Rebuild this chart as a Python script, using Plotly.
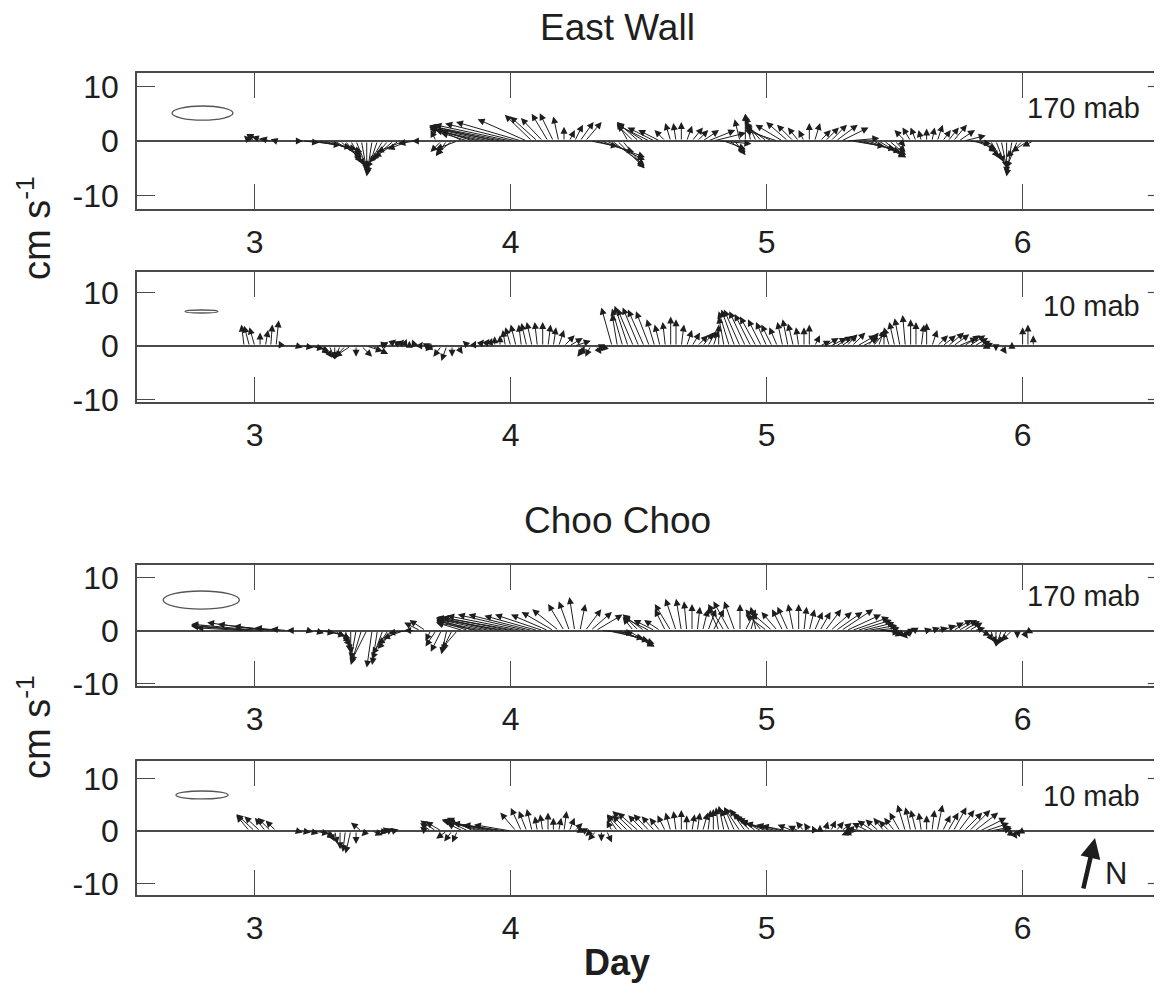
import plotly.graph_objects as go

# ---------------- data (half-hourly samples, start at day 142/48 = 2.958) ----------------
START_HALF_HOUR = 142
N_SAMPLES = 149
time_days = [(START_HALF_HOUR + j) / 48 for j in range(N_SAMPLES)]

# East Wall, 170 mab  (u = east, v = north, cm/s)
ew170_u = [0, -1, -1.5, -2.5, -2.5, -2, -1, 0, 0.5, 0.5,
           1, 3, 6, 7, 7, 7, 6, 5, 4, 3,
           2.5, 2, 1, 0, -1, -2, -3, -3.5, -4, -4.5,
           -5, -4, -3, -1.5, -0.5, 0.5, -1, -2, -2, -3,
           -4, -4, -5, -7, -8, -10, -11, -12, -13, -14,
           -14, -13, -12, -9, -5, -5, -4, -3, -2.5, -1,
           0, 1, 1.5, 2.5, 3, 5, 7, 8, 7, 6,
           5, 4, -2, -3, -4, -5, -6, -5, -4, -2,
           -1, -0.5, 0, 1, 2, 2, 3, 5, 6, 6,
           4, 3, 2, -1, 0, -1, -2, -3, -4, -5,
           -6, -5, -4, -3, -2, -1, 0, 1, 2, 2.5,
           3, 4, 5, 6, 6, 7, 7, 7, 6, 5,
           4, 3, 2, 1, -2, -1.5, -1, -0.5, 0, 0.5,
           1, 1.5, 2, 2.5, 3, 4, 4, 4, 3, 2.5,
           2, 1.5, 1, 0, -1, -2, -3, -3, -2]
ew170_v = [0, 1, 1.2, 1.3, 0.8, 0.5, 0.3, 0, -0.2, 0,
           0, -0.3, -0.8, -1.2, -1.5, -2, -2.5, -3, -3.5, -4,
           -4.5, -5, -5.5, -6, -6.5, -6, -5, -4, -3.5, -3,
           -2, -1.5, -0.5, 0, 0.5, 0.3, 2, -2, -2.8, -2.5,
           -1.5, 2, 1.5, 2.2, 2, 2.2, 2.5, 2.8, 2.5, 2.8,
           3, 3.2, 3.5, 4, 4.8, 4.5, 4.2, 5, 5.1, 4.5,
           2.6, 2, 3, 3.5, 3.5, -1, -2, -3, -3.5, -4.5,
           -5, -5, 3.5, 3, 3.5, 3.2, 3, 2.5, 2, 2,
           3.3, 3.3, 3.5, 2.8, 2.5, 2, 2, 2, 1.5, -0.5,
           -1.5, -2, -2.6, 4, 5, 5, 4.5, 3.5, 3, 2.5,
           2, 3, 3.5, 3, 2.5, 2, 3.3, 3.3, 2, 2.5,
           3, 3, 2.5, 0.5, -1, -1.5, -2, -2.5, -3, -3,
           -3, -2.5, -2, -1, 2, 2.5, 2.5, 2, 2.3, 2.5,
           3, 2, 2.5, 3, 2, 1, -0.5, -1.5, -2, -3,
           -3.5, -4, -5, -6, -6.5, -5, -3, -2, -1]

# East Wall, 10 mab
ew10_u = [-0.5, -1, -1, 0, 0.5, 0.3, 0.5, -0.5, 0, 0.5,
          1, 2, 3, 3, 2, 1.5, 1, 0, -1, -2,
          -3, 0, 2, 3, 3, 2, 1, 1.5, 1.5, 1,
          0.5, 0, -0.5, 0.5, 1, -1, -2, -1.5, -1, 0,
          1, 0, -1, 0.5, 1, 1, 0.5, 0, 0, -0.5,
          -1, -1, -0.5, -1, -1, -0.5, 0, 0.5, 0.5, 1,
          2, 2.5, 3, 1, -1.5, -1, 1, 0, -1, -2,
          -1, -2, -2.5, -3, -3, -3, -2.5, -1.5, -1, -0.5,
          0, 0, 0.5, 1, 1.5, 2, 2, 1.5, 1, 0,
          -1, -2, -2.5, -3, -3, -3, -3, -2.5, -2, -2,
          -1.5, -1, -1, -1, -0.5, 0, 0, 1, 2, 2.5,
          3, 3, 3, 2, 2.5, 3.5, 3, 2, 2.5, 1,
          0, -1, -1, -1, -0.5, 0, 0, 0.5, 0, 1,
          2, 2.5, 3, 3, 3.5, 3, 3, 2.5, 2, 1,
          -1, 0, 1, 0.5, 0, 0, 0, 0, 0]
ew10_v = [4, 3.8, 3.5, 2.5, 3, 4, 4.8, 1, 0.3, -0.2,
          -0.3, -0.3, -0.5, -1, -1.5, -2.2, -2.5, -2.5, -2.5, -2.2,
          -2, -2, -2, -1, -1.5, 0.5, 0.8, 1.2, 1, 1.2,
          1.3, 1, 1.2, 0.8, 0.5, -1, -0.5, -2, -2.8, -2,
          -1.5, 0.5, 1, 1, 1.2, 1.3, 1.5, 1.8, 2, 3,
          3.5, 4, 4, 4.3, 4.5, 4.5, 4.5, 4, 3.5, 3,
          2, 1.5, 1, -1.5, -2, -2, -1.5, -1, -1, 7.2,
          6, 7, 7.5, 7, 7.2, 6.8, 6.5, 5, 4, 4.5,
          5.5, 5, 4, 3, 2.5, 2, 2.5, 2.8, 3, 4,
          5.5, 6.5, 6.8, 6.8, 6.5, 6, 5.5, 5, 4.5, 4,
          3.5, 4.5, 5, 4.2, 3.5, 3.5, 4, 2, 1, 1.5,
          1.5, 1.8, 2, 2.2, 2.5, 2, 1.5, 2.5, 3, 3,
          3, 3.5, 4.5, 5.2, 5.8, 5, 4.5, 4, 4.3, 3,
          2, 2, 2.5, 2.2, 1.5, 2, 2, 1.5, 1, -0.5,
          0.8, -1, -1.5, -0.5, 0.8, 0.5, 3.5, 4, 2]

# Choo Choo, 170 mab
cc170_u = [-9, -11, -12, -13, -11, -10, -8, -5, -3, -1,
           -0.5, 0.5, 1, 2, 3, 4, 4, 3, 2, 1,
           0, -1, -2, -3, -1, -1, -2, -3, -3, -4,
           -4, -4, -2, -3, -3, -1, -2, -2, -1, -2,
           -3, -5, -6, -7, -8, -9, -10, -11, -12, -13,
           -13, -14, -14, -13, -12, -10, -9, -7, -6, -5,
           -3, -2, -1, 1, 3, 4, 5, 6, 7, 7,
           7, 6, 5, -2, -3, -4, -5, -4, -3, -2,
           -3, -2, -1, -0.5, 0, 0.5, 1, 1.5, 2, -2,
           -3, -3, -2, 0, 2, 1, -1, -3, -4, -4,
           -3, -2, -2, -1, 0, 0.5, 1, 1.5, 2, 3,
           4, 5, 6, 6.5, 7, 6.5, 6, 5.5, 5, 4,
           3, 2.5, 2, 1.5, 1, 0, -1, 0, 1, 1.5,
           2, 2.5, 3, 3.5, 3.5, 3, 2.5, 2, 2, 1.5,
           1, 0, -1, -1.5, -2, 0, 1, 1, 0]
cc170_v = [0.5, 1, 0.8, 1.2, 1.5, 1.2, 0.8, 0.5, 0.3, 0,
           0.2, -0.2, -0.3, -0.5, -0.5, -1, -1.5, -2.2, -3, -4,
           -4.5, -5.5, -6.5, -6, -7, -6.5, -5.5, -4.5, -3.5, -2.5,
           -1.5, -0.5, 0, 1.5, 2, -2, -3, -4, -4.5, -4,
           -3.5, 1.5, 2, 2.2, 1.5, 1.8, 2.2, 2.5, 2.5, 2.2,
           2.5, 2.5, 2.8, 3, 3, 2.8, 3, 3, 3.5, 4,
           5, 5.5, 6.3, 5, 4, 3.5, 3, -0.5, -1.5, -2,
           -2.5, -3, -3, 2.5, 3, 3, 2.5, 2, 2, 4,
           5, 6, 6, 5.5, 5, 4.5, 4, 4, 4, 4.5,
           5, 5.5, 5.5, 5, 4, 3.5, 4.5, 4, 3, 3.5,
           3.5, 4, 4.5, 5, 5, 4.5, 4, 3.5, 3.5, 4,
           3.5, 3.5, 4, 3, 2.5, 2, 1.5, 1, 0.5, 0,
           -0.5, -1, -1, -1.5, -1.2, -1, 0.5, 0.2, 0.3, 0.5,
           0.5, 1, 1.5, 2, 2, 1.8, 1.5, 0.5, -1, -2,
           -2.5, -3, -3, -2.5, -2, -1.5, -1.5, -0.5, 0]

# Choo Choo, 10 mab
cc10_u = [0, -2.5, -3.5, -3, -2, -2.5, -2, -0.5, 0.5, 0.5,
          1, 1.5, 2, 3, 3, 2, 1, 0.5, 0, -0.5,
          -1, 0, -2, -1, 2, 2, 1.5, 1, 1, 0,
          -0.5, 0.5, 0.5, 0.3, -1, -2, -3, -3, -2, -1.5,
          -1, -3, -4, -5, -7, -8, -8, -9, -9, -8,
          -7, -3, -2, -1.5, -1, -0.5, -0.5, 0, 0, 0.5,
          0.5, 1, 1.5, 0, -1, -1, -1.5, 0, 1, -1,
          -2, -3, -3, -4, -4, -3, -3, -2.5, -2, -1.5,
          -1, -0.5, 0, 0, 0.5, 0.5, 1, 0.5, 0, -0.5,
          -1, -1.5, -2, -3, -3, -3.5, -4, -4.5, -5, -6,
          -6, -5, -5, -3, -2, -1.5, -1, -0.5, 0, 0.5,
          1, 1.5, 2, 1, -2, -2.5, -3, -3, -3, -2.5,
          -2, -2, -2, -2, -1.5, -1, -1, -0.5, 0, 0.5,
          1, 1.5, 2, 2.5, 3, 3.5, 4, 4.5, 5, 4.5,
          4, 3, 2, 1.5, 1, 0.5, -1, -0.5, 0]
cc10_v = [0, 3, 3.2, 2.8, 2.5, 2.5, 2, 0.5, 0, -0.2,
          -0.3, -0.3, -0.5, -0.5, -1, -1.5, -2, -2.5, -3.5, -4,
          -4.3, -2.5, 1.6, -1, -0.8, -0.3, 0.3, 0.5, 0.3, 0.2,
          0.2, 0.3, -0.2, 0, 0.8, 1.5, 2, 1.8, -1.5, -2,
          -2.2, 1.5, 2, 2.5, 2.2, 2, 1.8, 1.8, 1.5, 1.2,
          1.2, 3.5, 4.4, 3.8, 4.2, 2.8, 3.2, 3.5, 2.5, 2.5,
          3.8, 2.5, 1.5, 1, 0.5, -1, -1.8, -2, -2.2, 2,
          3, 3.2, 3, 3.8, 3.5, 3, 3.2, 2.8, 2.5, 3,
          3.5, 3.8, 4, 3, 3.2, 3.5, 3.5, 4, 4.2, 4.5,
          4.8, 4.2, 4.5, 4.5, 4.2, 3.5, 3, 2.5, 2, 1.8,
          1.5, 1.2, 1, 1.2, 1, 1.8, 1.5, 1, 1.2, 1.8,
          2, 1.8, 1.5, -0.5, -0.8, -0.5, 0.5, 1.5, 2, 2.2,
          2.5, 2, 2.5, 3.5, 5, 4.5, 4, 3.5, 3, 4,
          5, 3, 3.5, 4.5, 4, 3.5, 4, 3.5, 2.5, 1.5,
          0.8, 0.5, 0.5, -1, -1.5, -1.2, -0.5, 0, 0]

# variance ellipses: centre day, centre v, half-width (days), half-height (cm/s)
ellipse_cx = [2.796, 2.792, 2.791, 2.794]
ellipse_cy = [5.13, 6.45, 5.75, 6.86]
ellipse_rx = [0.119, 0.064, 0.149, 0.102]
ellipse_ry = [1.29, 0.28, 1.70, 0.76]

panel_titles = ["East Wall", "Choo Choo"]
depth_labels = ["170 mab", "10 mab", "170 mab", "10 mab"]
x_ticks = [3, 4, 5, 6]
y_ticks = [-10, 0, 10]
y_tick_text = ["-10", "0", "10"]

# ---------------- layout geometry (page pixels; the page body adds an 8 px offset) ----------------
OFF = 8
FW, FH = 1154, 985
X_RANGE = [2.54, 6.525]
x_px = (137, 1157)
panels_px = [(73, 209), (272, 402), (565, 686), (761, 895)]       # top, bottom (page pixels)
y_ranges = [[-12.48, 12.48], [-10.47, 13.83], [-10.47, 12.36], [-12.19, 13.33]]
series = [(ew170_u, ew170_v), (ew10_u, ew10_v), (cc170_u, cc170_v), (cc10_u, cc10_v)]


def px_x(p):
    return (p - OFF) / FW


def px_y(p):
    return 1 - (p - OFF) / FH


INK = "#1e1e1e"
FRAME = "#4a4a4a"
FONT = "Liberation Sans, Arial, sans-serif"

fig = go.Figure()
layout = dict(width=FW, height=FH, margin=dict(l=0, r=0, t=0, b=0, pad=0, autoexpand=False),
              paper_bgcolor="white", plot_bgcolor="white", showlegend=False)

annotations = []
shapes = []
xdom = [px_x(x_px[0]), px_x(x_px[1])]
px_per_day = (x_px[1] - x_px[0]) / (X_RANGE[1] - X_RANGE[0])

for k in range(4):
    top, bot = panels_px[k]
    ydom = [px_y(bot), px_y(top)]
    xa = "xaxis" if k == 0 else f"xaxis{k+1}"
    ya = "yaxis" if k == 0 else f"yaxis{k+1}"
    xr = "x" if k == 0 else f"x{k+1}"
    yr = "y" if k == 0 else f"y{k+1}"
    layout[xa] = dict(domain=xdom, range=X_RANGE, anchor=yr, tickvals=x_ticks,
                      ticks="inside", ticklen=25, tickwidth=1.2, tickcolor=FRAME,
                      showline=True, linecolor=FRAME, linewidth=1.5, mirror="ticks",
                      showgrid=False, zeroline=False, ticklabelstandoff=4, automargin=False,
                      tickfont=dict(family=FONT, size=32, color=INK), fixedrange=True)
    layout[ya] = dict(domain=ydom, range=y_ranges[k], anchor=xr, tickvals=y_ticks,
                      ticktext=y_tick_text,
                      ticks="inside", ticklen=18, tickwidth=1.2, tickcolor=FRAME,
                      showline=True, linecolor=FRAME, linewidth=1.5, mirror=True,
                      showgrid=False, zeroline=True, zerolinecolor=FRAME, zerolinewidth=1.5,
                      ticklabelstandoff=10, automargin=False,
                      tickfont=dict(family=FONT, size=32, color=INK), fixedrange=True)

    # data scale: one cm/s in x (days) equals one cm/s in y on screen
    px_per_unit_y = (bot - top) / (y_ranges[k][1] - y_ranges[k][0])
    days_per_unit = px_per_unit_y / px_per_day

    u_list, v_list = series[k]
    for t, u, v in zip(time_days, u_list, v_list):
        if u == 0 and v == 0:
            continue
        annotations.append(dict(x=t + u * days_per_unit, y=v, ax=t, ay=0,
                                xref=xr, yref=yr, axref=xr, ayref=yr,
                                text="", showarrow=True, arrowhead=2, arrowsize=1.4,
                                arrowwidth=1.0, arrowcolor=INK, standoff=0, startstandoff=0))

    # variance ellipse
    shapes.append(dict(type="circle", xref=xr, yref=yr,
                       x0=ellipse_cx[k] - ellipse_rx[k], x1=ellipse_cx[k] + ellipse_rx[k],
                       y0=ellipse_cy[k] - ellipse_ry[k], y1=ellipse_cy[k] + ellipse_ry[k],
                       line=dict(color="#555555", width=1.3)))
    # short right-side ticks
    for yt in (-10, 10):
        shapes.append(dict(type="line", xref=f"{xr} domain", yref=yr, x0=0.991, x1=1.0,
                           y0=yt, y1=yt, line=dict(color=FRAME, width=1.2)))
    # depth label
    annotations.append(dict(xref=f"{xr} domain", yref=f"{yr} domain", x=0.985, y=0.74,
                            xanchor="right", yanchor="middle", showarrow=False,
                            text=depth_labels[k], font=dict(family=FONT, size=29, color=INK)))

# titles
for title, yc in zip(panel_titles, (28, 520)):
    annotations.append(dict(xref="paper", yref="paper", x=px_x(617), y=px_y(yc),
                            xanchor="center", yanchor="middle", showarrow=False,
                            text=title, font=dict(family=FONT, size=37, color=INK)))
# axis titles
annotations.append(dict(xref="paper", yref="paper", x=px_x(617), y=px_y(962),
                        xanchor="center", yanchor="middle", showarrow=False,
                        text="<b>Day</b>", font=dict(family=FONT, size=36, color=INK)))
for yc in (228, 727):
    annotations.append(dict(xref="paper", yref="paper", x=px_x(34), y=px_y(yc),
                            xanchor="center", yanchor="middle", showarrow=False,
                            textangle=-90, text="cm s<sup>-1</sup>",
                            font=dict(family=FONT, size=38, color=INK)))

# north arrow
annotations.append(dict(xref="paper", yref="paper", x=px_x(1095), y=px_y(838),
                        ax=-12, ay=52, axref="pixel", ayref="pixel",
                        text="", showarrow=True, arrowhead=2, arrowsize=0.9, arrowwidth=4.5,
                        arrowcolor=INK, standoff=0))
annotations.append(dict(xref="paper", yref="paper", x=px_x(1116), y=px_y(873),
                        xanchor="center", yanchor="middle", showarrow=False,
                        text="N", font=dict(family=FONT, size=31, color=INK)))

layout["annotations"] = annotations
layout["shapes"] = shapes
fig.update_layout(**layout)
fig.write_html("out.html")
